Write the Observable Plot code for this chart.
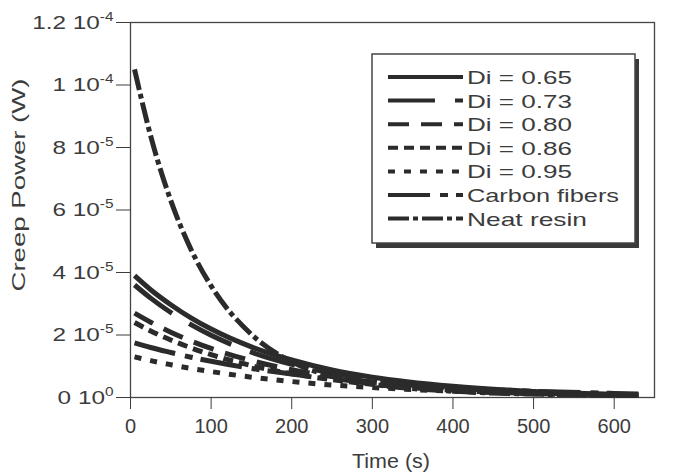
<!DOCTYPE html>
<html><head><meta charset="utf-8">
<script src="https://cdn.jsdelivr.net/npm/d3@7"></script>
<script src="https://cdn.jsdelivr.net/npm/@observablehq/plot@0.6"></script>
<style>html,body{margin:0;padding:0;background:#fff;} svg{display:block}</style>
</head><body><div id="chart"></div>
<script>
// ---- data (creep power in units of 1e-6 W) ----
const times = [5, 25, 50, 75, 100, 150, 200, 250, 300, 400, 500, 600, 630];
const di065 = [39.0, 34.5, 29.7, 25.5, 21.9, 16.2, 12.0, 8.8, 6.5, 3.6, 1.95, 1.06, 0.9];
const di073 = [36.0, 31.8, 27.2, 23.3, 19.9, 14.5, 10.6, 7.8, 5.7, 3.1, 1.6, 0.9, 0.75];
const di080 = [27.0, 24.1, 20.9, 18.1, 15.7, 11.8, 8.9, 6.7, 5.0, 2.8, 1.6, 0.9, 0.8];
const di086 = [24.0, 21.3, 18.4, 15.9, 13.7, 10.2, 7.6, 5.7, 4.2, 2.3, 1.3, 0.7, 0.6];
const di095 = [13.0, 11.8, 10.5, 9.3, 8.3, 6.5, 5.1, 4.0, 3.2, 2.0, 1.2, 0.8, 0.7];
const carbonFibers = [17.5, 16.0, 14.4, 12.9, 11.6, 9.3, 7.5, 6.0, 4.9, 3.1, 2.0, 1.3, 1.1];
const neatResin = [105, 83.7, 63.0, 47.4, 35.7, 20.2, 11.4, 6.8, 4.3, 2.0, 1.1, 0.7, 0.6];
const seriesNames = ["Di = 0.65", "Di = 0.73", "Di = 0.80", "Di = 0.86", "Di = 0.95", "Carbon fibers", "Neat resin"];
const xTicks = [0, 100, 200, 300, 400, 500, 600];
const yTicks = [0, 2e-5, 4e-5, 6e-5, 8e-5, 1e-4, 1.2e-4];
const yTickLabels = ["0 10^0", "2 10^-5", "4 10^-5", "6 10^-5", "8 10^-5", "1 10^-4", "1.2 10^-4"];

// ---- styles ----
const seriesValues = [di065, di073, di080, di086, di095, carbonFibers, neatResin];
const dashStyles = ["none", "47,20", "21,12", "10,6", "7,9", "42,10,8,8", "21,4,5,4"];
const ink = "#2b2b2b";
const textInk = "#3c3c3c";
const font = "'Liberation Sans', Arial, Helvetica, sans-serif";

const rows = seriesNames.flatMap((name, k) =>
  times.map((t, i) => ({name, t, p: seriesValues[k][i] * 1e-6})));

const lineMarks = seriesNames.map((name, k) =>
  Plot.line(rows.filter(d => d.name === name), {
    x: "t", y: "p", stroke: ink, strokeWidth: 5, strokeLinecap: "butt",
    strokeDasharray: dashStyles[k], curve: "monotone-x"
  }));

const svg = Plot.plot({
  width: 676, height: 474,
  marginLeft: 130, marginRight: 22, marginTop: 22, marginBottom: 77,
  style: {fontFamily: font, fontSize: "19px", color: textInk, background: "#fff"},
  x: {domain: [0, 650]},
  y: {domain: [0, 1.2e-4]},
  marks: [
    Plot.frame({stroke: "#444", strokeWidth: 1.3}),
    ...lineMarks,
    Plot.axisX({ticks: xTicks, tickSize: 12, tickPadding: 9, tickFormat: d => String(d), label: null, fontSize: 20}),
    Plot.axisY({ticks: yTicks, tickSize: 14, tickPadding: 3, label: null,
      tickFormat: d => yTickLabels[yTicks.findIndex(v => Math.abs(v - d) < 1e-9)]})
  ]
});
document.getElementById("chart").appendChild(svg);

const s = d3.select(svg);
// superscript exponents on y tick labels, widened like the scanned original
s.selectAll('g[aria-label="y-axis tick label"] text').each(function() {
  const t = d3.select(this);
  const parts = t.text().split("^");
  t.text(parts[0]);
  t.append("tspan").attr("dy", -8).attr("font-size", 12).text(parts[1]);
  const len = this.getComputedTextLength();
  t.attr("textLength", len * 1.28).attr("lengthAdjust", "spacingAndGlyphs");
});

// axis titles
s.append("text").attr("x", 391).attr("y", 468).attr("text-anchor", "middle")
  .attr("font-size", 20).attr("fill", textInk).attr("textLength", 78).attr("lengthAdjust", "spacingAndGlyphs")
  .text("Time (s)");
s.append("text").attr("transform", "translate(25,185) rotate(-90)").attr("text-anchor", "middle")
  .attr("font-size", 19).attr("fill", textInk).attr("textLength", 213).attr("lengthAdjust", "spacingAndGlyphs")
  .text("Creep Power (W)");

// legend
const lg = s.append("g").attr("text-anchor", "start");
lg.append("rect").attr("x", 376).attr("y", 59).attr("width", 263).attr("height", 189).attr("fill", "#3a3a3a");
lg.append("rect").attr("x", 372).attr("y", 54).attr("width", 263).attr("height", 189)
  .attr("fill", "#fff").attr("stroke", "#444").attr("stroke-width", 1.5);
const textWidths = [105, 105, 105, 105, 105, 152, 120];
seriesNames.forEach((name, k) => {
  const y = 77 + k * 23.6;
  lg.append("line").attr("x1", 388).attr("x2", 463).attr("y1", y).attr("y2", y)
    .attr("stroke", ink).attr("stroke-width", 4).attr("stroke-dasharray", dashStyles[k]);
  lg.append("text").attr("x", 467).attr("y", y + 7).attr("font-size", 19).attr("fill", textInk)
    .attr("text-anchor", "start")
    .attr("textLength", textWidths[k]).attr("lengthAdjust", "spacingAndGlyphs").text(name);
});
</script>
</body></html>
